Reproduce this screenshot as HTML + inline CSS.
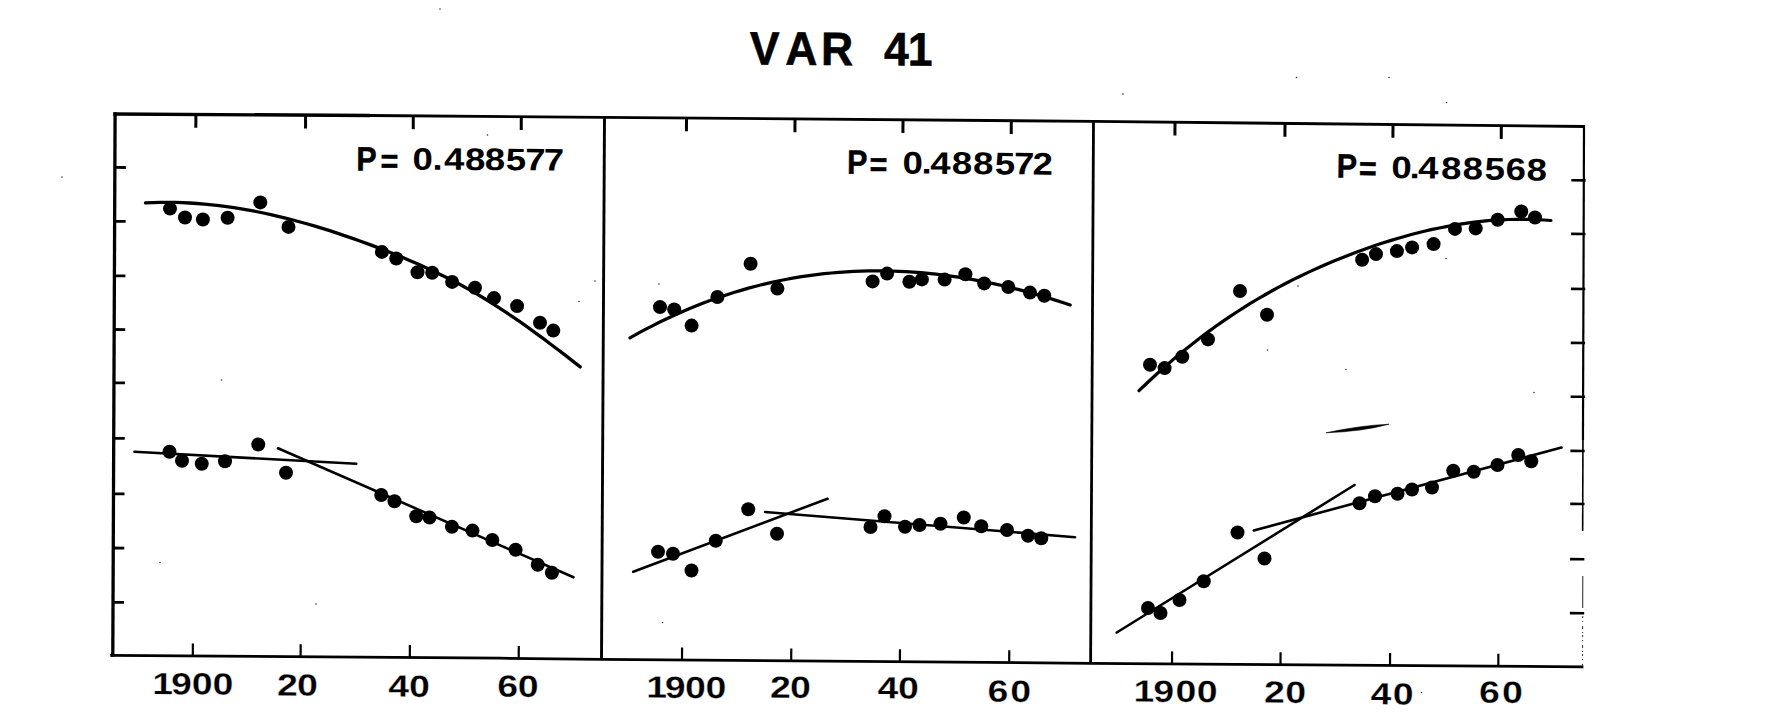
<!DOCTYPE html>
<html lang="en"><head><meta charset="utf-8"><title>VAR 41</title>
<style>
html,body{margin:0;padding:0;background:#fff;}
body{width:1768px;height:728px;overflow:hidden;}
svg{display:block;}
text{white-space:pre;}
</style></head><body>
<svg width="1768" height="728" viewBox="0 0 1768 728">
<rect x="0" y="0" width="1768" height="728" fill="#fff"/>
<g stroke="#000" stroke-linecap="butt" stroke-linejoin="round" fill="none">
<polyline points="113.30,114.00 370.00,115.50" stroke-width="3.4" />
<polyline points="370.00,115.50 604.50,117.30 1093.50,121.40 1585.00,126.50" stroke-width="2.8" />
<line x1="115.10" y1="112.30" x2="112.80" y2="656.80" stroke-width="3.3" />
<polyline points="110.20,655.30 500.00,658.20 601.50,659.40 1090.60,663.30 1583.40,666.80" stroke-width="2.8" />
<line x1="1584.00" y1="125.20" x2="1582.96" y2="440.00" stroke-width="2.2" />
<line x1="1582.96" y1="440.00" x2="1582.65" y2="531.00" stroke-width="1.6" />
<line x1="1582.80" y1="576.00" x2="1582.70" y2="608.00" stroke-width="1.0" stroke="#222"/>
<line x1="1582.67" y1="616.00" x2="1582.50" y2="666.00" stroke-width="1.1" stroke="#444" stroke-dasharray="2 3 1 4 3 3 1 2"/>
<line x1="604.50" y1="117.30" x2="601.50" y2="659.40" stroke-width="2.9" />
<line x1="1093.50" y1="121.40" x2="1090.60" y2="663.30" stroke-width="2.8" />
<line x1="195.90" y1="114.48" x2="195.83" y2="127.78" stroke-width="3.0" />
<line x1="305.60" y1="115.12" x2="305.53" y2="128.42" stroke-width="3.0" />
<line x1="413.30" y1="115.83" x2="413.23" y2="129.13" stroke-width="3.0" />
<line x1="521.30" y1="116.66" x2="521.23" y2="129.96" stroke-width="3.0" />
<line x1="686.50" y1="117.99" x2="686.43" y2="131.29" stroke-width="3.0" />
<line x1="795.00" y1="118.90" x2="794.93" y2="132.20" stroke-width="3.0" />
<line x1="903.00" y1="119.80" x2="902.93" y2="133.10" stroke-width="3.0" />
<line x1="1011.30" y1="120.71" x2="1011.23" y2="134.01" stroke-width="3.0" />
<line x1="1175.00" y1="122.25" x2="1174.93" y2="135.55" stroke-width="3.0" />
<line x1="1285.00" y1="123.39" x2="1284.93" y2="136.69" stroke-width="3.0" />
<line x1="1393.00" y1="124.51" x2="1392.93" y2="137.81" stroke-width="3.0" />
<line x1="1501.30" y1="125.63" x2="1501.23" y2="138.93" stroke-width="3.0" />
<line x1="192.80" y1="655.91" x2="192.88" y2="643.41" stroke-width="2.2" />
<line x1="300.60" y1="656.72" x2="300.68" y2="644.22" stroke-width="2.2" />
<line x1="409.80" y1="657.53" x2="409.88" y2="645.03" stroke-width="2.2" />
<line x1="518.70" y1="658.42" x2="518.78" y2="645.92" stroke-width="2.2" />
<line x1="682.00" y1="660.04" x2="682.08" y2="647.54" stroke-width="2.2" />
<line x1="791.20" y1="660.91" x2="791.28" y2="648.41" stroke-width="2.2" />
<line x1="899.90" y1="661.78" x2="899.98" y2="649.28" stroke-width="2.2" />
<line x1="1009.20" y1="662.65" x2="1009.28" y2="650.15" stroke-width="2.2" />
<line x1="1172.00" y1="663.88" x2="1172.08" y2="651.38" stroke-width="2.2" />
<line x1="1280.50" y1="664.65" x2="1280.58" y2="652.15" stroke-width="2.2" />
<line x1="1390.00" y1="665.43" x2="1390.08" y2="652.93" stroke-width="2.2" />
<line x1="1498.30" y1="666.20" x2="1498.38" y2="653.70" stroke-width="2.2" />
<line x1="114.87" y1="167.40" x2="125.87" y2="167.50" stroke-width="2.8" />
<line x1="114.64" y1="221.30" x2="125.64" y2="221.40" stroke-width="2.8" />
<line x1="114.41" y1="275.80" x2="125.41" y2="275.90" stroke-width="2.8" />
<line x1="114.18" y1="329.50" x2="125.18" y2="329.60" stroke-width="2.8" />
<line x1="113.96" y1="382.80" x2="124.96" y2="382.90" stroke-width="2.8" />
<line x1="113.72" y1="438.30" x2="124.72" y2="438.40" stroke-width="2.8" />
<line x1="113.49" y1="493.80" x2="124.49" y2="493.90" stroke-width="2.8" />
<line x1="113.26" y1="548.00" x2="124.26" y2="548.10" stroke-width="2.8" />
<line x1="113.03" y1="602.30" x2="124.03" y2="602.40" stroke-width="2.8" />
<line x1="1585.62" y1="180.40" x2="1571.32" y2="180.30" stroke-width="2.6" />
<line x1="1585.44" y1="234.00" x2="1571.14" y2="233.90" stroke-width="2.6" />
<line x1="1585.26" y1="289.00" x2="1570.96" y2="288.90" stroke-width="2.6" />
<line x1="1585.08" y1="343.00" x2="1570.78" y2="342.90" stroke-width="2.6" />
<line x1="1584.90" y1="396.80" x2="1570.60" y2="396.70" stroke-width="2.6" />
<line x1="1584.72" y1="451.00" x2="1570.42" y2="450.90" stroke-width="2.6" />
<line x1="1584.54" y1="504.00" x2="1570.24" y2="503.90" stroke-width="2.6" />
<line x1="1584.36" y1="559.20" x2="1570.06" y2="559.10" stroke-width="2.6" />
<line x1="1584.18" y1="613.20" x2="1569.88" y2="613.10" stroke-width="2.6" />
</g>
<g stroke="#000" fill="none" stroke-linecap="round" stroke-linejoin="round">
<path d="M145.5,202.9 L152.9,202.6 L160.2,202.4 L167.6,202.4 L175.0,202.4 L182.3,202.7 L189.7,203.0 L197.1,203.5 L204.4,204.1 L211.8,204.8 L219.2,205.6 L226.5,206.6 L233.9,207.6 L241.3,208.8 L248.6,210.1 L256.0,211.5 L263.4,213.0 L270.8,214.6 L278.1,216.3 L285.5,218.1 L292.9,220.0 L300.2,222.0 L307.6,224.0 L315.0,226.2 L322.3,228.4 L329.7,230.7 L337.1,233.1 L344.4,235.6 L351.8,238.1 L359.2,240.7 L366.5,243.4 L373.9,246.1 L381.3,248.9 L388.6,251.8 L396.0,254.7 L403.4,257.7 L410.7,260.9 L418.1,264.1 L425.5,267.4 L432.8,270.8 L440.2,274.4 L447.6,278.0 L454.9,281.8 L462.3,285.8 L469.7,289.9 L477.1,294.1 L484.4,298.5 L491.8,303.1 L499.2,307.8 L506.5,312.7 L513.9,317.6 L521.3,322.7 L528.6,327.9 L536.0,333.3 L543.4,338.7 L550.7,344.2 L558.1,349.8 L565.5,355.4 L572.8,361.1 L580.2,366.9" stroke-width="3.3"/>
<path d="M630.0,337.8 L637.5,333.7 L644.9,329.7 L652.4,325.8 L659.8,322.0 L667.3,318.5 L674.8,315.0 L682.2,311.7 L689.7,308.5 L697.1,305.5 L704.6,302.6 L712.1,299.8 L719.5,297.2 L727.0,294.7 L734.5,292.3 L741.9,290.1 L749.4,287.9 L756.8,286.0 L764.3,284.1 L771.8,282.4 L779.2,280.8 L786.7,279.3 L794.1,277.9 L801.6,276.7 L809.1,275.6 L816.5,274.6 L824.0,273.7 L831.4,273.0 L838.9,272.3 L846.4,271.8 L853.8,271.4 L861.3,271.1 L868.8,270.9 L876.2,270.9 L883.7,270.9 L891.1,271.0 L898.6,271.3 L906.1,271.7 L913.5,272.2 L921.0,272.7 L928.4,273.4 L935.9,274.2 L943.4,275.1 L950.8,276.1 L958.3,277.2 L965.7,278.4 L973.2,279.7 L980.7,281.1 L988.1,282.5 L995.6,284.1 L1003.1,285.8 L1010.5,287.6 L1018.0,289.4 L1025.4,291.4 L1032.9,293.4 L1040.4,295.6 L1047.8,297.8 L1055.3,300.1 L1062.7,302.5 L1070.2,305.0" stroke-width="3.2"/>
<path d="M1139.0,390.7 L1146.0,384.0 L1153.0,377.5 L1159.9,371.1 L1166.9,365.0 L1173.9,358.9 L1180.9,353.1 L1187.9,347.4 L1194.9,341.9 L1201.8,336.6 L1208.8,331.4 L1215.8,326.3 L1222.8,321.4 L1229.8,316.7 L1236.8,312.0 L1243.7,307.6 L1250.7,303.2 L1257.7,299.0 L1264.7,295.0 L1271.7,291.0 L1278.7,287.2 L1285.6,283.5 L1292.6,279.9 L1299.6,276.5 L1306.6,273.1 L1313.6,269.9 L1320.6,266.7 L1327.5,263.7 L1334.5,260.8 L1341.5,257.9 L1348.5,255.2 L1355.5,252.5 L1362.5,249.9 L1369.4,247.5 L1376.4,245.1 L1383.4,242.8 L1390.4,240.6 L1397.4,238.5 L1404.4,236.5 L1411.3,234.5 L1418.3,232.7 L1425.3,231.0 L1432.3,229.4 L1439.3,228.0 L1446.3,226.6 L1453.2,225.3 L1460.2,224.2 L1467.2,223.1 L1474.2,222.2 L1481.2,221.4 L1488.2,220.7 L1495.1,220.2 L1502.1,219.8 L1509.1,219.5 L1516.1,219.3 L1523.1,219.3 L1530.1,219.4 L1537.0,219.6 L1544.0,220.0 L1551.0,220.5" stroke-width="3.2"/>
<line x1="134.50" y1="451.75" x2="356.25" y2="463.75" stroke-width="2.6" />
<line x1="278.00" y1="448.30" x2="573.50" y2="577.30" stroke-width="2.6" />
<line x1="633.25" y1="571.75" x2="827.50" y2="498.75" stroke-width="2.6" />
<line x1="765.00" y1="512.00" x2="1075.00" y2="537.20" stroke-width="2.6" />
<line x1="1116.75" y1="632.50" x2="1354.50" y2="485.00" stroke-width="2.6" />
<line x1="1253.75" y1="530.50" x2="1561.50" y2="447.50" stroke-width="2.6" />
</g>
<path d="M1326,432.8 Q1360,425.5 1389,424.2 Q1362,431.5 1326,432.8Z" fill="#000" stroke="#000" stroke-width="0.6"/>
<g fill="#000">
<circle cx="170.00" cy="208.60" r="7.0"/>
<circle cx="185.00" cy="217.50" r="7.0"/>
<circle cx="202.90" cy="219.50" r="7.0"/>
<circle cx="227.60" cy="217.80" r="7.0"/>
<circle cx="260.30" cy="202.40" r="7.0"/>
<circle cx="288.50" cy="226.90" r="7.0"/>
<circle cx="381.90" cy="251.90" r="7.0"/>
<circle cx="396.25" cy="258.50" r="7.0"/>
<circle cx="417.50" cy="272.20" r="7.0"/>
<circle cx="432.20" cy="272.70" r="7.0"/>
<circle cx="452.10" cy="281.90" r="7.0"/>
<circle cx="475.00" cy="287.80" r="7.0"/>
<circle cx="494.00" cy="298.10" r="7.0"/>
<circle cx="517.10" cy="306.10" r="7.0"/>
<circle cx="540.00" cy="322.70" r="7.0"/>
<circle cx="553.30" cy="330.60" r="7.0"/>
<circle cx="169.50" cy="451.75" r="7.0"/>
<circle cx="182.00" cy="460.75" r="7.0"/>
<circle cx="201.75" cy="463.75" r="7.0"/>
<circle cx="225.00" cy="461.25" r="7.0"/>
<circle cx="258.25" cy="444.50" r="7.0"/>
<circle cx="286.00" cy="472.75" r="7.0"/>
<circle cx="381.25" cy="495.00" r="7.0"/>
<circle cx="394.50" cy="501.25" r="7.0"/>
<circle cx="416.25" cy="516.25" r="7.0"/>
<circle cx="429.50" cy="517.50" r="7.0"/>
<circle cx="451.90" cy="526.80" r="7.0"/>
<circle cx="472.50" cy="530.60" r="7.0"/>
<circle cx="492.30" cy="540.00" r="7.0"/>
<circle cx="515.60" cy="549.70" r="7.0"/>
<circle cx="537.75" cy="564.75" r="7.0"/>
<circle cx="551.90" cy="572.75" r="7.0"/>
<circle cx="660.00" cy="307.10" r="7.0"/>
<circle cx="674.20" cy="309.40" r="7.0"/>
<circle cx="691.60" cy="325.60" r="7.0"/>
<circle cx="717.40" cy="297.00" r="7.0"/>
<circle cx="750.60" cy="263.80" r="7.0"/>
<circle cx="777.40" cy="288.60" r="7.0"/>
<circle cx="872.60" cy="281.40" r="7.0"/>
<circle cx="887.10" cy="273.60" r="7.0"/>
<circle cx="909.40" cy="281.70" r="7.0"/>
<circle cx="921.90" cy="279.40" r="7.0"/>
<circle cx="944.60" cy="279.60" r="7.0"/>
<circle cx="965.40" cy="274.30" r="7.0"/>
<circle cx="984.20" cy="283.40" r="7.0"/>
<circle cx="1008.30" cy="287.00" r="7.0"/>
<circle cx="1030.00" cy="292.60" r="7.0"/>
<circle cx="1044.30" cy="295.70" r="7.0"/>
<circle cx="658.00" cy="551.75" r="7.0"/>
<circle cx="673.00" cy="553.75" r="7.0"/>
<circle cx="691.50" cy="570.50" r="7.0"/>
<circle cx="715.75" cy="540.75" r="7.0"/>
<circle cx="748.25" cy="509.25" r="7.0"/>
<circle cx="777.00" cy="533.75" r="7.0"/>
<circle cx="870.50" cy="527.00" r="7.0"/>
<circle cx="884.50" cy="516.25" r="7.0"/>
<circle cx="905.00" cy="526.75" r="7.0"/>
<circle cx="919.50" cy="525.00" r="7.0"/>
<circle cx="940.50" cy="523.75" r="7.0"/>
<circle cx="963.75" cy="517.50" r="7.0"/>
<circle cx="981.25" cy="526.25" r="7.0"/>
<circle cx="1007.00" cy="530.00" r="7.0"/>
<circle cx="1028.00" cy="535.75" r="7.0"/>
<circle cx="1041.25" cy="538.25" r="7.0"/>
<circle cx="1150.00" cy="364.80" r="7.0"/>
<circle cx="1164.60" cy="368.10" r="7.0"/>
<circle cx="1182.30" cy="356.70" r="7.0"/>
<circle cx="1208.00" cy="339.40" r="7.0"/>
<circle cx="1240.00" cy="291.00" r="7.0"/>
<circle cx="1267.00" cy="314.80" r="7.0"/>
<circle cx="1362.10" cy="259.80" r="7.0"/>
<circle cx="1376.00" cy="254.10" r="7.0"/>
<circle cx="1396.90" cy="251.10" r="7.0"/>
<circle cx="1412.10" cy="247.40" r="7.0"/>
<circle cx="1433.60" cy="244.10" r="7.0"/>
<circle cx="1455.00" cy="228.90" r="7.0"/>
<circle cx="1475.70" cy="228.40" r="7.0"/>
<circle cx="1497.70" cy="219.80" r="7.0"/>
<circle cx="1521.25" cy="211.50" r="7.0"/>
<circle cx="1535.00" cy="217.50" r="7.0"/>
<circle cx="1148.00" cy="608.00" r="7.0"/>
<circle cx="1160.50" cy="613.00" r="7.0"/>
<circle cx="1179.50" cy="600.00" r="7.0"/>
<circle cx="1203.75" cy="581.25" r="7.0"/>
<circle cx="1237.50" cy="532.50" r="7.0"/>
<circle cx="1264.50" cy="558.50" r="7.0"/>
<circle cx="1359.50" cy="503.25" r="7.0"/>
<circle cx="1375.00" cy="496.25" r="7.0"/>
<circle cx="1397.50" cy="493.75" r="7.0"/>
<circle cx="1412.00" cy="489.50" r="7.0"/>
<circle cx="1432.00" cy="487.50" r="7.0"/>
<circle cx="1453.25" cy="470.75" r="7.0"/>
<circle cx="1473.75" cy="471.75" r="7.0"/>
<circle cx="1497.50" cy="465.00" r="7.0"/>
<circle cx="1518.25" cy="455.00" r="7.0"/>
<circle cx="1531.25" cy="461.25" r="7.0"/>
</g>
<g fill="#333">
<circle cx="440" cy="9" r="0.8"/>
<circle cx="1296.5" cy="77.5" r="0.8"/>
<circle cx="1389" cy="77.5" r="0.8"/>
<circle cx="1123" cy="94" r="0.8"/>
<circle cx="1446.5" cy="102.5" r="0.8"/>
<circle cx="62" cy="177" r="0.8"/>
<circle cx="579" cy="301.5" r="0.8"/>
<circle cx="659" cy="284" r="0.8"/>
<circle cx="595" cy="281" r="0.8"/>
<circle cx="487.5" cy="135" r="0.8"/>
<circle cx="221.5" cy="380" r="0.8"/>
<circle cx="160" cy="562.5" r="0.8"/>
<circle cx="316" cy="604" r="0.8"/>
<circle cx="662.5" cy="622.5" r="0.8"/>
<circle cx="1421.5" cy="692.5" r="0.8"/>
<circle cx="1534" cy="392.5" r="0.8"/>
<circle cx="1346" cy="369.5" r="0.8"/>
<circle cx="1267.5" cy="350" r="0.8"/>
<circle cx="1298" cy="286" r="0.8"/>
<circle cx="1446" cy="258.5" r="0.8"/>
</g>
<g font-family="'Liberation Sans', Arial, Helvetica, sans-serif" font-weight="bold" fill="#000" stroke="#000" stroke-width="0">
<text transform="translate(749.77 64.60) rotate(0.3) scale(0.95 1)" x="-0.00 37.27 74.89 102.97 141.31 166.19" y="0" font-size="46.8" stroke-width="0.6">VAR 41</text>
<g><text transform="translate(356.18 170.60) rotate(0.3) scale(0.9 1)" x="0.00 27.12 47.46" y="0 1.8" font-size="33.9" stroke-width="0.5">P= </text><text transform="translate(412.53 169.70) rotate(0.3) scale(1.17 1)" x="0.00 17.11 26.92 44.79 61.80 79.68 96.36 112.09" y="0" font-size="31.2">0.488577</text></g>
<g><text transform="translate(846.88 173.70) rotate(0.5) scale(0.9 1)" x="0.00 25.18 45.52" y="0 1.8" font-size="33.9" stroke-width="0.5">P= </text><text transform="translate(902.38 173.40) rotate(0.5) scale(1.17 1)" x="-0.00 16.39 23.93 42.14 60.30 78.86 95.42 111.17" y="0" font-size="31.2">0.488572</text></g>
<g><text transform="translate(1336.53 177.50) rotate(0.95) scale(0.9 1)" x="0.00 24.62 44.96" y="0 1.8" font-size="33.9" stroke-width="0.5">P= </text><text transform="translate(1391.13 177.90) rotate(0.95) scale(1.17 1)" x="-0.00 15.79 23.03 42.74 61.03 79.80 97.79 115.65" y="0" font-size="31.2">0.488568</text></g>
<text transform="translate(152.16 694.00) rotate(0.45) scale(1.22 1)" x="0.00 15.49 32.53 49.41" y="0" font-size="30.6" stroke-width="0.25" stroke="#fff">1900</text>
<text transform="translate(276.92 695.40) rotate(0.45) scale(1.22 1)" x="0.00 16.50" y="0" font-size="30.6" stroke-width="0.25" stroke="#fff">20</text>
<text transform="translate(388.24 696.60) rotate(0.45) scale(1.22 1)" x="-0.00 17.06" y="0" font-size="30.6" stroke-width="0.25" stroke="#fff">40</text>
<text transform="translate(497.31 696.60) rotate(0.45) scale(1.22 1)" x="-0.00 16.83" y="0" font-size="30.6" stroke-width="0.25" stroke="#fff">60</text>
<text transform="translate(646.16 697.60) rotate(0.45) scale(1.22 1)" x="0.00 15.17 31.87 48.59" y="0" font-size="30.6" stroke-width="0.25" stroke="#fff">1900</text>
<text transform="translate(770.02 697.70) rotate(0.45) scale(1.22 1)" x="-0.00 16.42" y="0" font-size="30.6" stroke-width="0.25" stroke="#fff">20</text>
<text transform="translate(877.44 698.30) rotate(0.45) scale(1.22 1)" x="0.00 16.89" y="0" font-size="30.6" stroke-width="0.25" stroke="#fff">40</text>
<text transform="translate(987.61 701.50) rotate(0.45) scale(1.22 1)" x="-0.00 18.64" y="0" font-size="30.6" stroke-width="0.25" stroke="#fff">60</text>
<text transform="translate(1133.46 701.50) rotate(0.45) scale(1.22 1)" x="0.00 16.31 34.41 51.95" y="0" font-size="30.6" stroke-width="0.25" stroke="#fff">1900</text>
<text transform="translate(1263.92 702.60) rotate(0.45) scale(1.22 1)" x="0.00 17.56" y="0" font-size="30.6" stroke-width="0.25" stroke="#fff">20</text>
<text transform="translate(1370.54 704.20) rotate(0.45) scale(1.22 1)" x="-0.00 18.29" y="0" font-size="30.6" stroke-width="0.25" stroke="#fff">40</text>
<text transform="translate(1479.01 702.60) rotate(0.45) scale(1.22 1)" x="0.00 18.88" y="0" font-size="30.6" stroke-width="0.25" stroke="#fff">60</text>
</g>
</svg>
</body></html>
